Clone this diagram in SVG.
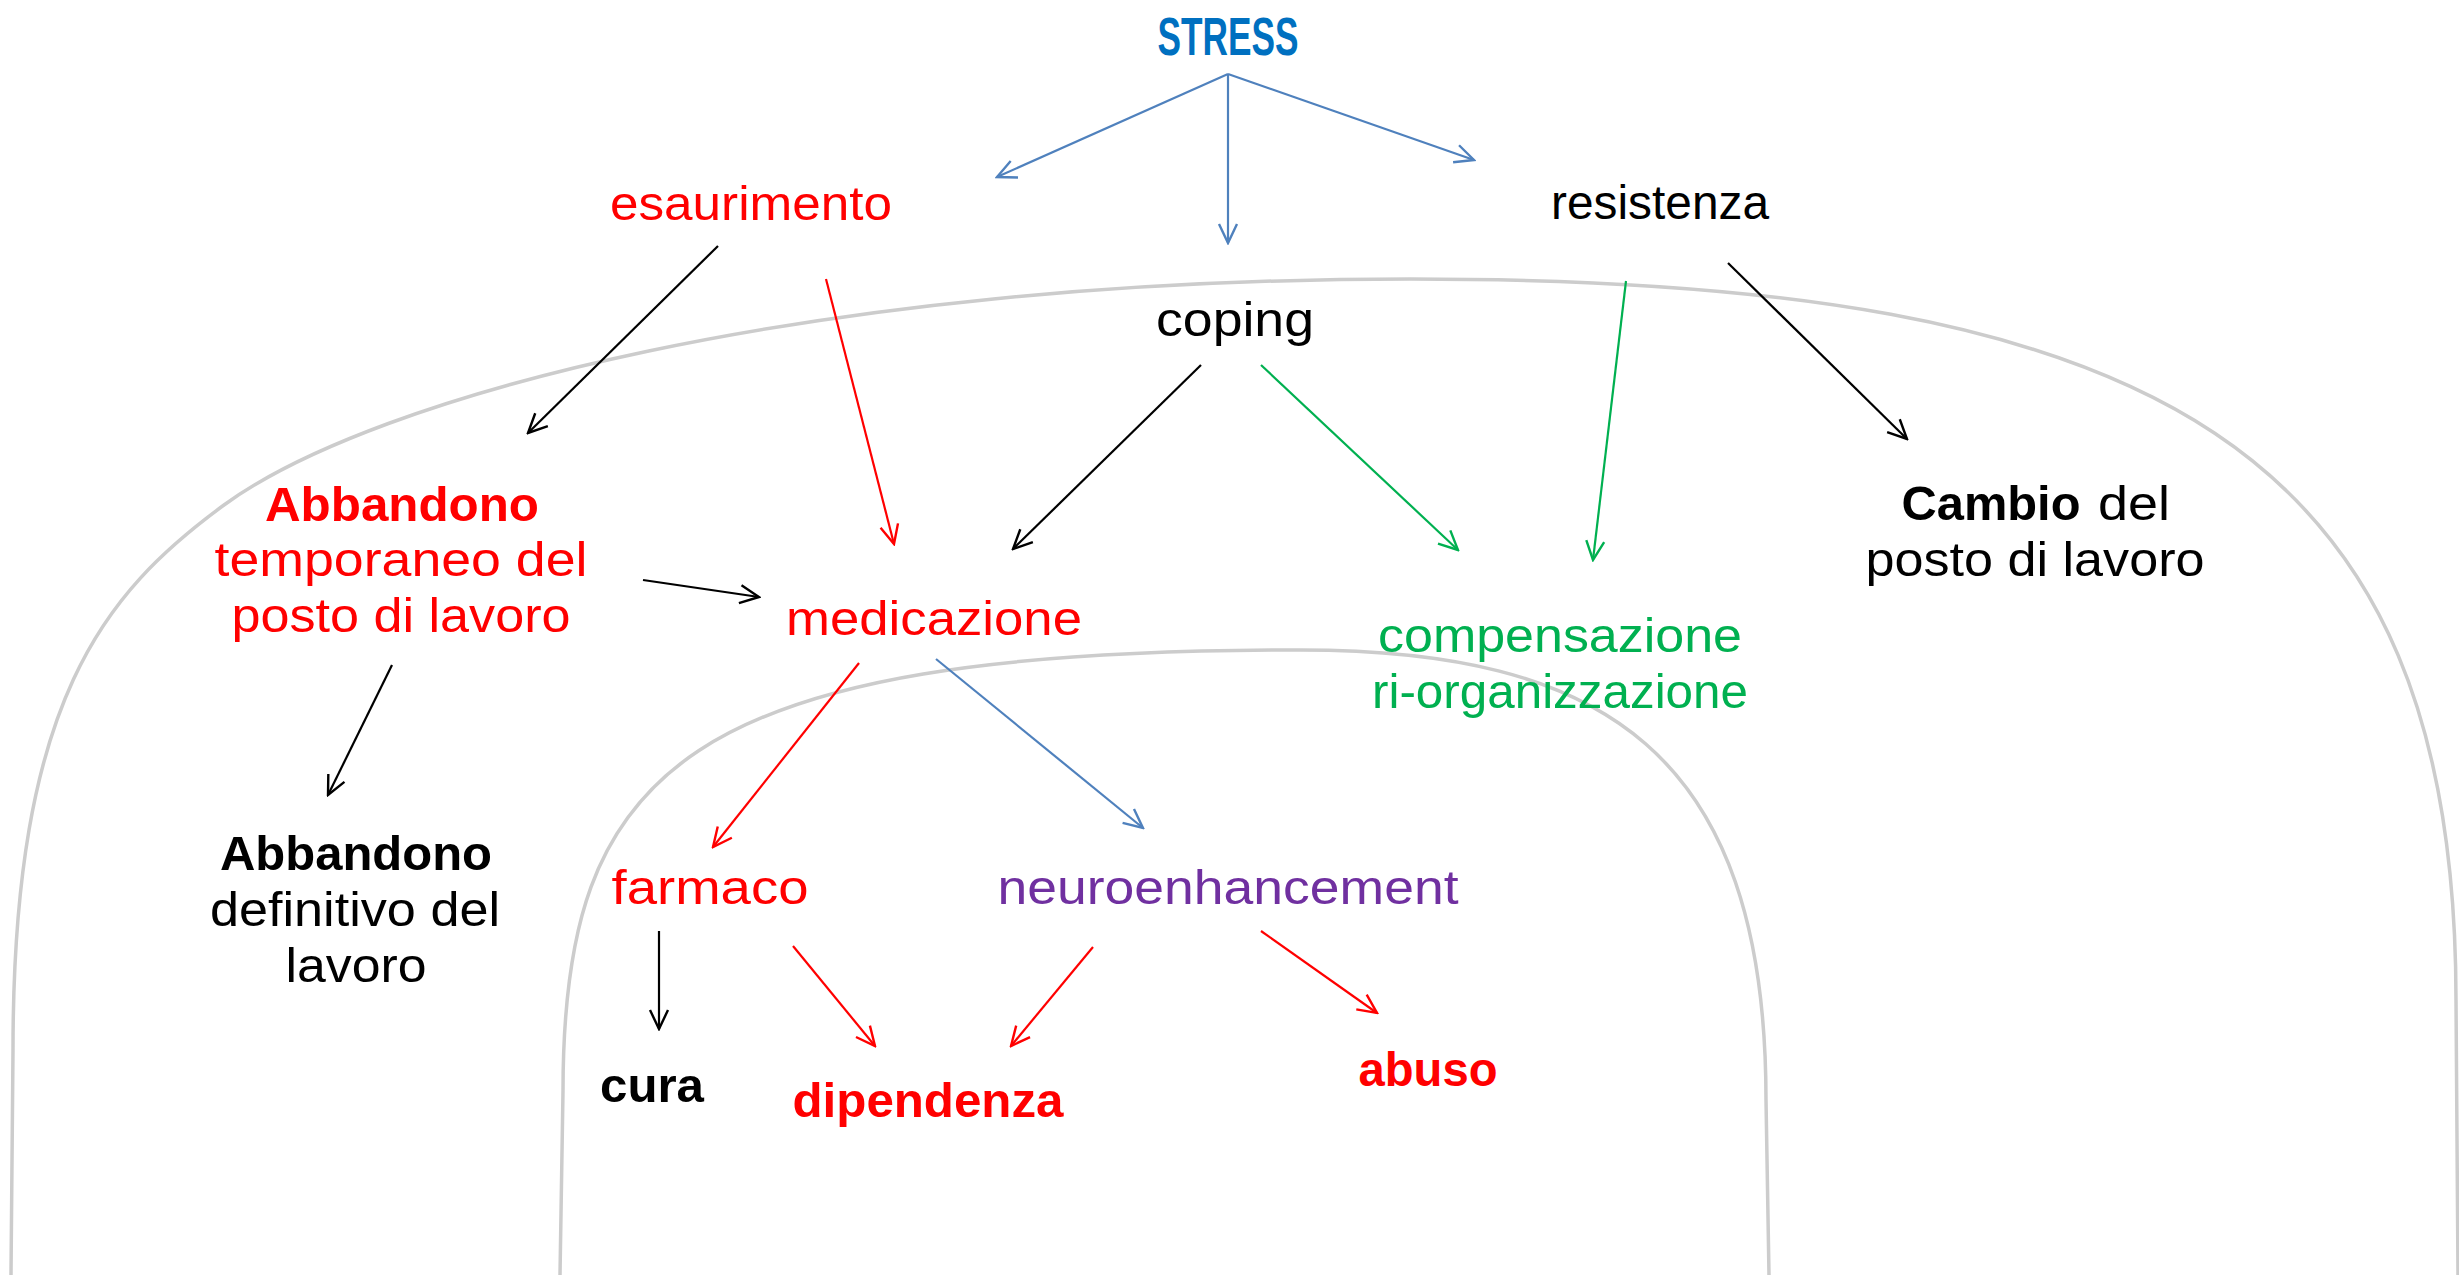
<svg xmlns="http://www.w3.org/2000/svg" width="2459" height="1275" viewBox="0 0 2459 1275">
<style>
text{font-family:"Liberation Sans",Arial,sans-serif;font-size:48px;text-anchor:middle}
.b{font-weight:bold}
.red{fill:#FF0000}.blk{fill:#000}.grn{fill:#00B050}.pur{fill:#7030A0}.blu{fill:#0070C0}
.arch{fill:none;stroke:#cccccc;stroke-width:3.5}
.c{fill:none;stroke-width:2.2}
.cb{stroke:#4F81BD}.cr{stroke:#FF0000}.ck{stroke:#000}.cg{stroke:#00B050}
</style>
<defs>
<marker id="mb" markerUnits="userSpaceOnUse" markerWidth="24" markerHeight="24" viewBox="0 0 24 24" refX="22" refY="12" orient="auto"><path d="M3,3 L22,12 L3,21" fill="none" stroke="#4F81BD" stroke-width="2.4"/></marker>
<marker id="mr" markerUnits="userSpaceOnUse" markerWidth="24" markerHeight="24" viewBox="0 0 24 24" refX="22" refY="12" orient="auto"><path d="M3,3 L22,12 L3,21" fill="none" stroke="#FF0000" stroke-width="2.4"/></marker>
<marker id="mk" markerUnits="userSpaceOnUse" markerWidth="24" markerHeight="24" viewBox="0 0 24 24" refX="22" refY="12" orient="auto"><path d="M3,3 L22,12 L3,21" fill="none" stroke="#000" stroke-width="2.4"/></marker>
<marker id="mg" markerUnits="userSpaceOnUse" markerWidth="24" markerHeight="24" viewBox="0 0 24 24" refX="22" refY="12" orient="auto"><path d="M3,3 L22,12 L3,21" fill="none" stroke="#00B050" stroke-width="2.4"/></marker>
</defs>
<rect width="2459" height="1275" fill="#fff"/>
<g id="arches">
<path class="arch" d="M11,1275 L13,1050 C13,700 104,593 224,505 C374,395.5 811,279 1411,279 C2161,279 2456,450 2456,1000 L2458,1275"/>
<path class="arch" d="M560,1275 L563,1091 C563,771 680,650 1300,650 C1600,650 1766,750 1766,1100 L1769,1275"/>
</g>
<g id="connectors">
<line class="c cb" x1="1228" y1="74" x2="997" y2="177" marker-end="url(#mb)"/>
<line class="c cb" x1="1228" y1="74" x2="1228" y2="243" marker-end="url(#mb)"/>
<line class="c cb" x1="1228" y1="74" x2="1474" y2="160" marker-end="url(#mb)"/>
<line class="c ck" x1="718" y1="246" x2="528" y2="433" marker-end="url(#mk)"/>
<line class="c cr" x1="826" y1="279" x2="894" y2="544" marker-end="url(#mr)"/>
<line class="c ck" x1="1201" y1="365" x2="1013" y2="549" marker-end="url(#mk)"/>
<line class="c cg" x1="1261" y1="365" x2="1458" y2="550" marker-end="url(#mg)"/>
<line class="c cg" x1="1626" y1="281" x2="1593" y2="560" marker-end="url(#mg)"/>
<line class="c ck" x1="1728" y1="263" x2="1907" y2="439" marker-end="url(#mk)"/>
<line class="c ck" x1="643" y1="580" x2="759" y2="597" marker-end="url(#mk)"/>
<line class="c ck" x1="392" y1="665" x2="328" y2="795" marker-end="url(#mk)"/>
<line class="c cr" x1="859" y1="663" x2="713" y2="847" marker-end="url(#mr)"/>
<line class="c cb" x1="936" y1="659" x2="1143" y2="828" marker-end="url(#mb)"/>
<line class="c ck" x1="659" y1="931" x2="659" y2="1029" marker-end="url(#mk)"/>
<line class="c cr" x1="793" y1="946" x2="875" y2="1046" marker-end="url(#mr)"/>
<line class="c cr" x1="1093" y1="947" x2="1011" y2="1046" marker-end="url(#mr)"/>
<line class="c cr" x1="1261" y1="931" x2="1377" y2="1013" marker-end="url(#mr)"/>
</g>
<g id="stress"><text class="b blu" x="1228" y="55" style="font-size:54px" textLength="141" lengthAdjust="spacingAndGlyphs">STRESS</text></g>
<g id="esaurimento"><text class="red" x="751" y="220" textLength="282" lengthAdjust="spacingAndGlyphs">esaurimento</text></g>
<g id="resistenza"><text class="blk" x="1660" y="219" textLength="218" lengthAdjust="spacingAndGlyphs">resistenza</text></g>
<g id="coping"><text class="blk" x="1235" y="336" textLength="158" lengthAdjust="spacingAndGlyphs">coping</text></g>
<g id="abbandono-temporaneo">
<text class="b red" x="402" y="521" textLength="274" lengthAdjust="spacingAndGlyphs">Abbandono</text>
<text class="red" x="401" y="576" textLength="373" lengthAdjust="spacingAndGlyphs">temporaneo del</text>
<text class="red" x="401" y="632" textLength="339" lengthAdjust="spacingAndGlyphs">posto di lavoro</text>
</g>
<g id="medicazione"><text class="red" x="934" y="635" textLength="296" lengthAdjust="spacingAndGlyphs">medicazione</text></g>
<g id="compensazione">
<text class="grn" x="1560" y="652" textLength="364" lengthAdjust="spacingAndGlyphs">compensazione</text>
<text class="grn" x="1560" y="708" textLength="376" lengthAdjust="spacingAndGlyphs">ri-organizzazione</text>
</g>
<g id="cambio">
<text class="b blk" x="1991" y="520" textLength="179" lengthAdjust="spacingAndGlyphs">Cambio</text>
<text class="blk" x="2134" y="520" textLength="72" lengthAdjust="spacingAndGlyphs">del</text>
<text class="blk" x="2035" y="576" textLength="339" lengthAdjust="spacingAndGlyphs">posto di lavoro</text>
</g>
<g id="abbandono-definitivo">
<text class="b blk" x="356" y="870" textLength="272" lengthAdjust="spacingAndGlyphs">Abbandono</text>
<text class="blk" x="355" y="926" textLength="290" lengthAdjust="spacingAndGlyphs">definitivo del</text>
<text class="blk" x="356" y="982" textLength="141" lengthAdjust="spacingAndGlyphs">lavoro</text>
</g>
<g id="farmaco"><text class="red" x="710" y="904" textLength="197" lengthAdjust="spacingAndGlyphs">farmaco</text></g>
<g id="neuroenhancement"><text class="pur" x="1228" y="904" textLength="461" lengthAdjust="spacingAndGlyphs">neuroenhancement</text></g>
<g id="cura"><text class="b blk" x="652" y="1102" textLength="104" lengthAdjust="spacingAndGlyphs">cura</text></g>
<g id="dipendenza"><text class="b red" x="928" y="1117" textLength="271" lengthAdjust="spacingAndGlyphs">dipendenza</text></g>
<g id="abuso"><text class="b red" x="1428" y="1086" textLength="139" lengthAdjust="spacingAndGlyphs">abuso</text></g>
</svg>
